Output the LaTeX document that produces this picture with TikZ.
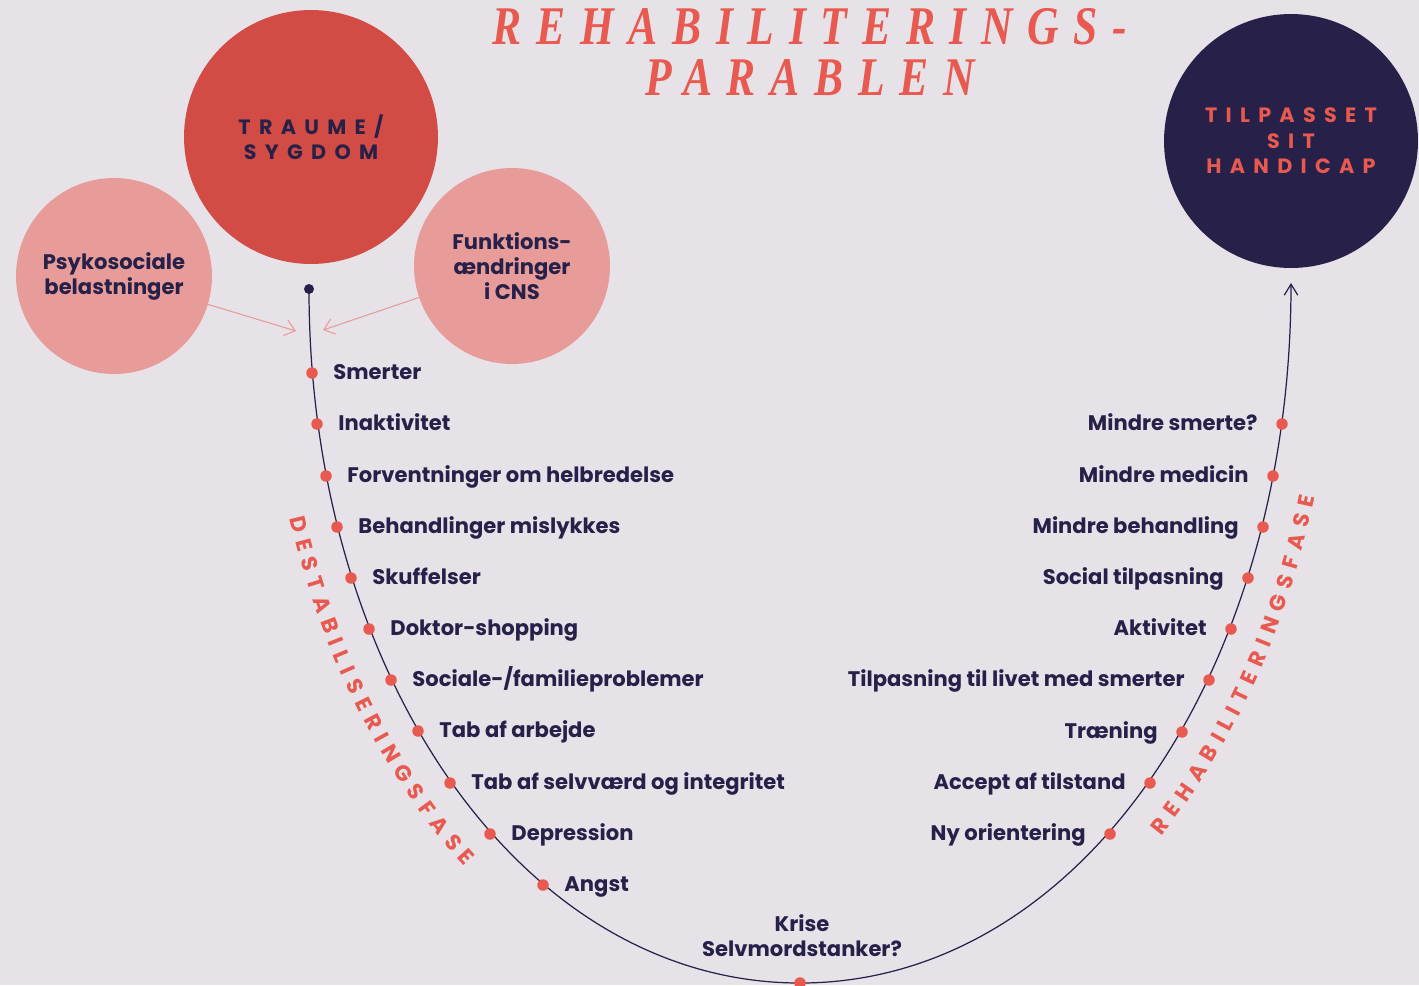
\documentclass[tikz,border=0pt]{standalone}
\usepackage{fontspec}
\setmainfont{Poppins}
\newfontfamily\spacedfont{Poppins}[LetterSpace=40]
\newfontfamily\titlefont{Liberation Serif}[LetterSpace=27,FakeStretch=0.8]
\usetikzlibrary{arrows.meta,positioning,calc,decorations.text}
\definecolor{prbg}{RGB}{230,226,231}
\definecolor{prred}{RGB}{210,76,69}
\definecolor{prpink}{RGB}{231,156,153}
\definecolor{prnavy}{RGB}{39,33,73}
\definecolor{prcoral}{RGB}{232,90,79}
\tikzstyle{feeder} = [prpink, line width=0.6pt, -{Straight Barb[length=2mm,width=3.2mm]}]

\begin{document}
\begin{tikzpicture}[x=0.02cm, y=0.02cm,
    bigcircle/.style={circle, minimum size=5.08cm, inner sep=0pt, align=center, font=\spacedfont\bfseries\fontsize{11.8}{14.5}\selectfont},
    cause/.style={circle, fill=prpink, minimum size=3.92cm, inner sep=0pt, align=center, text=prnavy, font=\bfseries\fontsize{12}{14.2}\selectfont},
    stage/.style={circle, fill=prcoral, minimum size=0.23cm, inner sep=0pt},
    stagetext/.style={inner sep=0pt, text=prnavy, text height=0.7em, text depth=0pt, font=\bfseries\fontsize{12}{14}\selectfont},
    parabel/.style={prnavy, line width=0.7pt},
    phase/.style={decorate, decoration={text along path, text align=fit to path, text={|\bfseries\fontsize{12.5}{14}\selectfont\color{prcoral}|#1}}},
    node distance=0.3cm]

\useasboundingbox (0,0) rectangle (1419,-985);
\fill[prbg] (0,0) rectangle (1419,-985);

% Title
\node[font=\titlefont\bfseries\itshape\fontsize{31}{29}\selectfont, text=prcoral, align=center] (title) at (810,-52) {REHABILITERINGS-\\PARABLEN};

% Big circles
\node[bigcircle, fill=prred, text=prnavy] (traume) at (311,-137) {TRAUME/\\SYGDOM};
\node[bigcircle, fill=prnavy, text=prcoral] (tilpas) at (1291,-141) {TILPASSET\\SIT\\HANDICAP};

% Causes
\node[cause] (psyko) at (114,-276) {Psykosociale\\belastninger};
\node[cause] (funktion) at (512,-266) {Funktions-\\ændringer\\i CNS};

\coordinate (inL) at (296,-331);
\coordinate (inR) at (323,-330);
\draw[feeder] (psyko) -- (inL);
\draw[feeder] (funktion) -- (inR);

% The curve
\node[circle, fill=prnavy, minimum size=0.2cm, inner sep=0pt] (start) at (309,-289) {};
\coordinate (krisept) at (800,-983);
\coordinate (slut) at (1291,-283);
\draw[parabel, -{Straight Barb[length=2.2mm,width=2.7mm]}] (start.center) .. controls (309,-672) and (520,-983) .. (krisept) .. controls (1080,-983) and (1291,-672) .. (slut);

% Phase names
\path[phase=DESTABILISERINGSFASE] (289.8,-518.6) arc[start angle=197.5, end angle=231.2, x radius=535, y radius=727];
\path[phase=REHABILITERINGSFASE] (1161.4,-836) arc[start angle=312.5, end angle=344.3, x radius=535, y radius=727];

% Destabilisering
\node[stage] (l1) at (312,-373) {};
\node[stagetext, right=of l1] {Smerter};
\node[stage] (l2) at (317,-424) {};
\node[stagetext, right=of l2] {Inaktivitet};
\node[stage] (l3) at (326,-476) {};
\node[stagetext, right=of l3] {Forventninger om helbredelse};
\node[stage] (l4) at (337,-527) {};
\node[stagetext, right=of l4] {Behandlinger mislykkes};
\node[stage] (l5) at (351,-578) {};
\node[stagetext, right=of l5] {Skuffelser};
\node[stage] (l6) at (369,-629) {};
\node[stagetext, right=of l6] {Doktor-shopping};
\node[stage] (l7) at (391,-680) {};
\node[stagetext, right=of l7] {Sociale-/familieproblemer};
\node[stage] (l8) at (418,-731) {};
\node[stagetext, right=of l8] {Tab af arbejde};
\node[stage] (l9) at (450,-783) {};
\node[stagetext, right=of l9] {Tab af selvværd og integritet};
\node[stage] (l10) at (490,-834) {};
\node[stagetext, right=of l10] {Depression};
\node[stage] (l11) at (543,-885) {};
\node[stagetext, right=of l11] {Angst};

% Bottom
\node[stage] (bund) at (krisept) {};
\node[text=prnavy, align=center, font=\bfseries\fontsize{12}{14.2}\selectfont] (krise) at (802,-936) {Krise\\Selvmordstanker?};

% Rehabilitering
\node[stage] (r1) at (1282,-424) {};
\node[stagetext, left=0.36cm of r1] {Mindre smerte?};
\node[stage] (r2) at (1273,-476) {};
\node[stagetext, left=0.36cm of r2] {Mindre medicin};
\node[stage] (r3) at (1263,-527) {};
\node[stagetext, left=0.36cm of r3] {Mindre behandling};
\node[stage] (r4) at (1248,-578) {};
\node[stagetext, left=0.36cm of r4] {Social tilpasning};
\node[stage] (r5) at (1231,-629) {};
\node[stagetext, left=0.36cm of r5] {Aktivitet};
\node[stage] (r6) at (1209,-680) {};
\node[stagetext, left=0.36cm of r6] {Tilpasning til livet med smerter};
\node[stage] (r7) at (1182,-732) {};
\node[stagetext, left=0.36cm of r7] {Træning};
\node[stage] (r8) at (1150,-783) {};
\node[stagetext, left=0.36cm of r8] {Accept af tilstand};
\node[stage] (r9) at (1110,-834) {};
\node[stagetext, left=0.36cm of r9] {Ny orientering};
\end{tikzpicture}
\end{document}
